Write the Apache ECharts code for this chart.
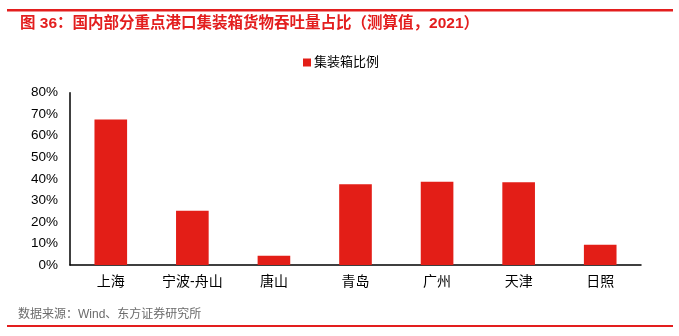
<!DOCTYPE html>
<html>
<head>
<meta charset="utf-8">
<script src="https://cdn.jsdelivr.net/npm/echarts@6/dist/echarts.min.js"></script>
<style>
  html, body { margin: 0; padding: 0; background: #fff; }
  #chart { width: 679px; height: 336px; }
</style>
</head>
<body>
<div id="chart"></div>
<script>
const ports = ['上海', '宁波-舟山', '唐山', '青岛', '广州', '天津', '日照']
const shares = [67.6, 25.2, 4.3, 37.5, 38.7, 38.4, 9.4]
const seriesName = '集装箱比例'

const chart = echarts.init(document.getElementById('chart'))
const font = '"Liberation Sans", "Noto Sans CJK SC", sans-serif'

const option = {
  animation: false,
  title: {
    text: '图 36：国内部分重点港口集装箱货物吞吐量占比（测算值，2021）',
    left: 15,
    top: 11,
    textStyle: { color: '#e31e1e', fontSize: 15.5, fontWeight: 'bold', fontFamily: font }
  },
  legend: {
    data: [seriesName],
    top: 51,
    left: 298,
    itemWidth: 8,
    itemHeight: 8,
    itemGap: 4,
    icon: 'rect',
    textStyle: { color: '#000', fontSize: 13, fontFamily: font, padding: [0, 0, 0, -2] }
  },
  grid: { left: 70, right: 38, top: 92.7, bottom: 71 },
  xAxis: {
    type: 'category',
    data: ports,
    axisLine: { lineStyle: { color: '#000', width: 1.5 } },
    axisTick: { inside: true, length: 4, lineStyle: { color: '#000' } },
    axisLabel: { color: '#000', fontSize: 14, margin: 10, fontFamily: font }
  },
  yAxis: {
    type: 'value',
    min: 0,
    max: 80,
    interval: 10,
    axisLine: { show: true, lineStyle: { color: '#000', width: 1.5 } },
    axisTick: { show: false },
    splitLine: { show: false },
    axisLabel: { color: '#000', fontSize: 13.5, margin: 12, fontFamily: font, formatter: '{value}%' }
  },
  series: [
    {
      name: seriesName,
      type: 'bar',
      data: shares,
      barWidth: '40%',
      itemStyle: { color: '#e31e17' }
    }
  ],
  graphic: [
    { type: 'rect', shape: { x: 7, y: 9, width: 666, height: 2.5 }, style: { fill: '#e31e1e' } },
    { type: 'rect', shape: { x: 7, y: 325, width: 666, height: 2 }, style: { fill: '#e31e1e' } },
    {
      type: 'text',
      left: 18,
      top: 309,
      style: { text: '数据来源：Wind、东方证券研究所', fill: '#6b6b6b', fontSize: 12, fontFamily: font }
    }
  ]
}

chart.setOption(option)
</script>
</body>
</html>
